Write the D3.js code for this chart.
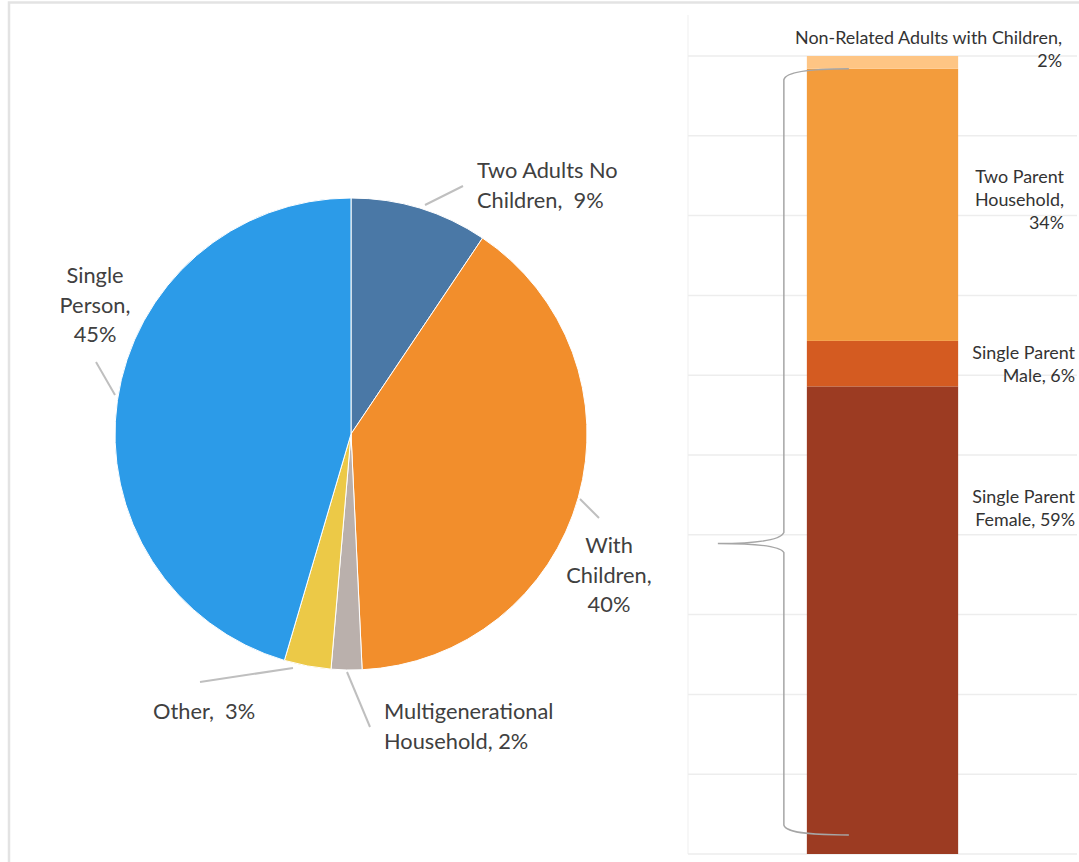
<!DOCTYPE html>
<html>
<head>
<meta charset="utf-8">
<script src="https://cdn.jsdelivr.net/npm/d3@7"></script>
<style>
  body { margin: 0; background: #fff; }
  svg { display: block; font-family: Lato, "Open Sans", sans-serif; }
</style>
</head>
<body>
<svg id="chart" width="1079" height="862"></svg>
<script>
// household types (pie), clockwise from 12 o'clock
const pieCategories = ['Two Adults No Children', 'With Children', 'Multigenerational Household', 'Other', 'Single Person'];
const pieValues = [9.4, 39.8, 2.1, 3.2, 45.4];
const pieLabels = [['Two Adults No', 'Children,  9%'], ['With', 'Children,', '40%'], ['Multigenerational', 'Household, 2%'], ['Other,  3%'], ['Single', 'Person,', '45%']];
const pieColors = ['#4a78a6', '#f28e2c', '#bab0ac', '#ecc947', '#2c9be8'];

// households with children (stacked bar), bottom to top
const barCategories = ['Single Parent Female', 'Single Parent Male', 'Two Parent Household', 'Non-Related Adults with Children'];
const barValues = [58.6, 5.7, 34.1, 1.6];
const barLabels = [['Single Parent', 'Female, 59%'], ['Single Parent', 'Male, 6%'], ['Two Parent', 'Household,', '34%'], ['Non-Related Adults with Children,', '2%']];
const barColors = ['#9c3b22', '#d45b21', '#f39c3c', '#fec584'];

const svg = d3.select('#chart');

// outer frame
svg.append('rect')
    .attr('x', 9).attr('y', 2.5)
    .attr('width', 1100).attr('height', 900)
    .attr('fill', 'none')
    .attr('stroke', '#e3e3e3')
    .attr('stroke-width', 2.5);

// ---------- PIE ----------
const cx = 351, cy = 434, radius = 236;
const pieG = svg.append('g').attr('transform', `translate(${cx},${cy})`);

const pie = d3.pie().sort(null).value(d => d.value);
const arc = d3.arc().innerRadius(0).outerRadius(radius);
const pieData = pie(pieCategories.map((c, i) => ({name: c, value: pieValues[i], label: pieLabels[i], color: pieColors[i]})));

pieG.selectAll('path.slice')
    .data(pieData)
    .join('path')
    .attr('class', 'slice')
    .attr('d', arc)
    .attr('fill', d => d.data.color)
    .attr('stroke', '#fff')
    .attr('stroke-width', 1);

// leader lines and label anchors (relative to pie centre)
const pieLabelLayout = [
    {line: [[74, -229], [112, -248]], x: 126, y: -256, anchor: 'start'},
    {line: [[229, 65], [248, 84]], x: 258, y: 119, anchor: 'middle'},
    {line: [[-4, 238], [19, 293]], x: 33, y: 285, anchor: 'start'},
    {line: [[-58, 234], [-151, 248]], x: -198, y: 285, anchor: 'start'},
    {line: [[-236, -39], [-255, -72]], x: -256, y: -151, anchor: 'middle'}
];

pieG.selectAll('line.leader')
    .data(pieLabelLayout)
    .join('line')
    .attr('class', 'leader')
    .attr('x1', d => d.line[0][0]).attr('y1', d => d.line[0][1])
    .attr('x2', d => d.line[1][0]).attr('y2', d => d.line[1][1])
    .attr('stroke', '#bfbfbf')
    .attr('stroke-width', 2);

pieG.selectAll('text.pie-label')
    .data(pieData)
    .join('text')
    .attr('class', 'pie-label')
    .attr('text-anchor', (d, i) => pieLabelLayout[i].anchor)
    .attr('fill', '#404040')
    .attr('font-size', 21.8)
    .each(function(d, i) {
        const lay = pieLabelLayout[i];
        d3.select(this).selectAll('tspan')
            .data(d.data.label)
            .join('tspan')
            .attr('x', lay.x)
            .attr('y', (t, j) => lay.y + j * 29.5)
            .style('white-space', 'pre')
            .text(t => t);
    });

// ---------- STACKED BAR ----------
const panel = {left: 688, right: 1077, top: 15, bottom: 854};

const xScale = d3.scaleBand()
    .domain(['With Children'])
    .range([panel.left, panel.right])
    .padding(0.44);

const yScale = d3.scaleLinear()
    .domain([0, 100])
    .range([854, 56]);

// panel left edge
svg.append('line')
    .attr('x1', panel.left).attr('x2', panel.left)
    .attr('y1', panel.top).attr('y2', panel.bottom)
    .attr('stroke', '#efefef');

// gridlines
svg.append('g')
    .selectAll('line')
    .data(yScale.ticks(10))
    .join('line')
    .attr('x1', panel.left).attr('x2', panel.right)
    .attr('y1', d => yScale(d)).attr('y2', d => yScale(d))
    .attr('stroke', '#ededed')
    .attr('stroke-width', 1.5);

const stackData = [];
let acc = 0;
barValues.forEach((v, i) => {
    stackData.push({name: barCategories[i], y0: acc, y1: acc + v, label: barLabels[i], color: barColors[i]});
    acc += v;
});

const bx = xScale('With Children');
const bw = xScale.bandwidth();

svg.append('g')
    .selectAll('rect')
    .data(stackData)
    .join('rect')
    .attr('x', bx)
    .attr('width', bw)
    .attr('y', d => yScale(d.y1))
    .attr('height', d => yScale(d.y0) - yScale(d.y1))
    .attr('fill', d => d.color);

// bar labels (right side), placement offsets in px
const barLabelLayout = [
    {x: 1075, y: 497},
    {x: 1075, y: 353},
    {x: 1064, y: 177},
    {x: 1062, y: 38}
];

svg.append('g')
    .selectAll('text')
    .data(stackData)
    .join('text')
    .attr('text-anchor', 'end')
    .attr('fill', '#333')
    .attr('font-size', 17.9)
    .each(function(d, i) {
        const lay = barLabelLayout[i];
        d3.select(this).selectAll('tspan')
            .data(d.label)
            .join('tspan')
            .attr('x', lay.x)
            .attr('y', (t, j) => lay.y + 6 + j * 23)
            .text(t => t);
    });

// curly brace spanning the two-parent .. single-parent part
const braceTop = yScale(stackData[2].y1);
const braceBot = yScale(0) - 19;
const braceMid = 543.5;
const xEnd = bx + 42, xV = bx - 23, xTip = bx - 89;
const brace = d3.path();
brace.moveTo(xEnd, braceTop);
brace.bezierCurveTo(xEnd - 30, braceTop, xV + 2, braceTop + 2, xV, braceTop + 11);
brace.lineTo(xV, braceMid - 11);
brace.bezierCurveTo(xV - 4, braceMid - 2, xTip + 30, braceMid, xTip, braceMid);
brace.bezierCurveTo(xTip + 30, braceMid, xV - 4, braceMid + 2, xV, braceMid + 9);
brace.lineTo(xV, braceBot - 10);
brace.bezierCurveTo(xV + 2, braceBot - 1, xEnd - 30, braceBot, xEnd, braceBot);

svg.append('path')
    .attr('d', brace.toString())
    .attr('fill', 'none')
    .attr('stroke', '#a6a6a6')
    .attr('stroke-width', 1.5);
</script>
</body>
</html>
